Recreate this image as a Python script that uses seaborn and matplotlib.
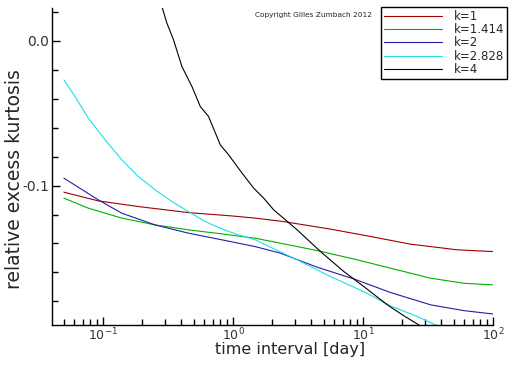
import numpy as np
import pandas as pd
import seaborn as sns
from matplotlib import pyplot as plt
from matplotlib.ticker import MultipleLocator, LogLocator, NullFormatter

# values
x_k1 = [0.05, 0.092, 0.187, 0.455, 0.953, 1.485, 2.455, 5.626, 11.44, 23.28, 53.3, 100]
y_k1 = [-0.1046, -0.1106, -0.1145, -0.1187, -0.1209, -0.1225, -0.1249, -0.1301, -0.1352,
        -0.1405, -0.1444, -0.1456]

x_k1414 = [0.05, 0.077, 0.1394, 0.2518, 0.4546, 0.8226, 1.485, 2.316, 4.443, 9.037, 16.32,
           33.2, 59.98, 100]
y_k1414 = [-0.1087, -0.1156, -0.1225, -0.1272, -0.1306, -0.1334, -0.1364, -0.1398, -0.1449,
           -0.1513, -0.1571, -0.164, -0.1675, -0.1686]

x_k2 = [0.05, 0.092, 0.1394, 0.2518, 0.4546, 0.8226, 1.485, 2.316, 4.443, 8.507, 16.32,
        33.2, 59.98, 100]
y_k2 = [-0.0949, -0.1099, -0.1191, -0.1272, -0.1329, -0.1375, -0.1422, -0.1467, -0.1564,
        -0.1645, -0.1739, -0.1824, -0.1864, -0.1887]

x_k2828 = [0.05, 0.0608, 0.077, 0.1036, 0.1394, 0.1872, 0.2518, 0.3386, 0.4546, 0.6114,
           0.8226, 1.105, 1.485, 1.721, 3.115, 5.626, 10.16, 16.32, 26.22, 37.4, 100]
y_k2828 = [-0.027, -0.0385, -0.0534, -0.0684, -0.0822, -0.0938, -0.103, -0.111, -0.118,
           -0.1249, -0.1300, -0.1341, -0.1375, -0.1403, -0.1513, -0.1629, -0.1733, -0.1831,
           -0.1905, -0.1968, -0.213]

x_k4 = [0.2836, 0.3098, 0.3483, 0.4044, 0.4829, 0.5597, 0.6483, 0.7981, 0.9249, 1.173,
        1.442, 1.721, 2.056, 3.115, 4.711, 7.124, 10.16, 15.4, 20.67, 26.98, 100]
y_k4 = [0.0237, 0.0122, 0.0007, -0.0178, -0.0316, -0.0454, -0.0523, -0.0719, -0.0788,
        -0.0914, -0.1018, -0.1087, -0.1168, -0.1306, -0.1456, -0.1594, -0.1698, -0.1824,
        -0.19, -0.1963, -0.233]

labels = ['k=1', 'k=1.414', 'k=2', 'k=2.828', 'k=4']
colors = ['#a00000', '#00b000', '#2020a8', '#20e0e0', '#000000']

frames = []
for lab, xs, ys in zip(labels,
                       [x_k1, x_k1414, x_k2, x_k2828, x_k4],
                       [y_k1, y_k1414, y_k2, y_k2828, y_k4]):
    frames.append(pd.DataFrame({'t': xs, 'kurt': ys, 'k': lab}))
df = pd.concat(frames, ignore_index=True)

sns.set_style('ticks')
plt.rcParams['font.family'] = ['DejaVu Sans']

fig = plt.figure(figsize=(5.12, 3.66), dpi=100)
ax = fig.add_axes([52 / 512, 41 / 366, 441 / 512, 317 / 366])

sns.lineplot(data=df, x='t', y='kurt', hue='k', hue_order=labels,
             palette=dict(zip(labels, colors)), linewidth=0.8, ax=ax,
             estimator=None, sort=False)

ax.set_xscale('log')
ax.set_xlim(0.0405, 100)
ax.set_ylim(-0.1963, 0.0226)

ax.yaxis.set_major_locator(MultipleLocator(0.1))
ax.yaxis.set_minor_locator(MultipleLocator(0.02))
ax.yaxis.set_major_formatter(plt.FuncFormatter(lambda v, p: '%.1f' % v))
ax.xaxis.set_major_locator(LogLocator(base=10))
ax.xaxis.set_minor_locator(LogLocator(base=10, subs=np.arange(2, 10)))
ax.xaxis.set_minor_formatter(NullFormatter())

ax.tick_params(which='both', direction='in', color='black', width=1, labelsize=10,
               labelcolor='#333333')
ax.tick_params(which='major', length=6)
ax.tick_params(which='minor', length=4)
ax.tick_params(axis='x', which='major', pad=1, labelsize=9)
ax.tick_params(axis='y', which='major', pad=2)

sns.despine(ax=ax)
for side in ['left', 'bottom']:
    ax.spines[side].set_color('black')
    ax.spines[side].set_linewidth(1)

ax.set_xlabel('time interval [day]', fontsize=11.5, va='top')
ax.set_ylabel('relative excess kurtosis', fontsize=13.5)
ax.xaxis.set_label_coords(0.54, -0.055)
ax.yaxis.set_label_coords(-0.064, 0.46)

leg = ax.legend(loc='upper right', bbox_to_anchor=(507 / 512, 1 - 7 / 366),
                bbox_transform=fig.transFigure, frameon=True, fancybox=False,
                fontsize=8.5, handlelength=4.9, handletextpad=1.0, labelspacing=0.02,
                borderpad=0.25, borderaxespad=0, title=None)
leg.get_frame().set_edgecolor('black')
leg.get_frame().set_linewidth(1)
leg.get_frame().set_alpha(1)

fig.text(255 / 512, 1 - 15 / 366, 'Copyright Gilles Zumbach 2012', fontsize=5.3,
         va='center', ha='left')

fig.savefig('out.png', dpi=100)
